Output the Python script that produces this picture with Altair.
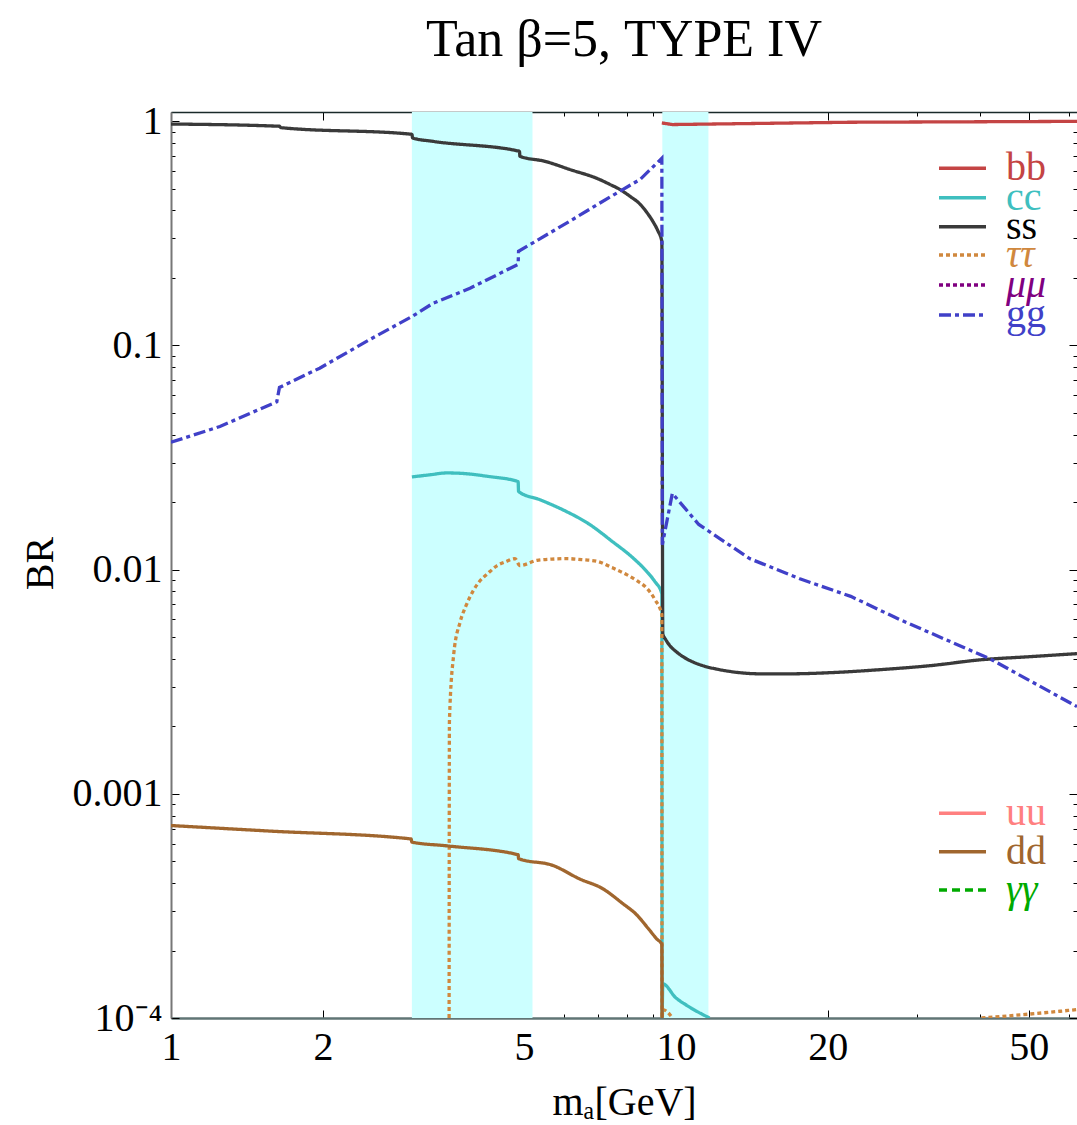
import altair as alt
import pandas as pd

SERIF = "Liberation Serif"
TITLE = "Tan β=5, TYPE IV"
X_TITLE = "mₐ[GeV]"
Y_TITLE = "BR"

# series (legend order), colours and dash styles
series_names = ["bb", "cc", "ss", "ττ", "μμ", "gg", "uu", "dd", "γγ"]
line_colors = ["#c44444", "#3fbfbf", "#3a3a3a", "#d0883e", "#800080", "#4040c8",
               "#ff8080", "#a0662e", "#00aa00"]
label_colors = ["#c44444", "#3fbfbf", "#000000", "#d0883e", "#800080", "#4040c8",
                "#ff8080", "#a0662e", "#00aa00"]
dashes = [[1, 0], [1, 0], [1, 0], [4, 3], [4, 3], [12, 4, 4, 4], [1, 0], [1, 0], [8, 5]]
interp = ["linear", "monotone", "monotone", "monotone", "linear", "linear",
          "linear", "monotone", "linear"]
italic_labels = ["ττ", "μμ", "γγ"]
# legend row centres (pixels from the top of the plot area)
legend_rows = [56.3, 85.7, 114.7, 143.0, 173.0, 203.0, 701.3, 739.7, 778.0]

# axis ticks
x_ticks = [1, 2, 3, 4, 5, 6, 7, 8, 9, 10, 20, 30, 40, 50, 60]
x_labelled = [1, 2, 5, 10, 20, 50]
y_ticks = [0.0001, 0.0002, 0.0003, 0.0004, 0.0005, 0.0006, 0.0007, 0.0008, 0.0009,
           0.001, 0.002, 0.003, 0.004, 0.005, 0.006, 0.007, 0.008, 0.009,
           0.01, 0.02, 0.03, 0.04, 0.05, 0.06, 0.07, 0.08, 0.09,
           0.1, 0.2, 0.3, 0.4, 0.5, 0.6, 0.7, 0.8, 0.9, 1]
y_label_vals = [0.0001, 0.001, 0.01, 0.1, 1]
y_label_text = ["10⁻⁴", "0.001", "0.01", "0.1", "1"]

# shaded bands
band_lo = [3.0, 9.4]
band_hi = [5.2, 11.6]

# curves
bb_x = [9.38, 9.84, 22.0, 62.3]
bb_y = [0.983, 0.967, 0.990, 0.999]

cc_x = [3.0, 3.26, 3.52, 3.91, 4.22, 4.87, 4.88, 5.38, 5.97, 6.75, 7.50, 8.18, 8.76,
        9.09, 9.38, 9.39, 9.42, 10.0, 10.5, 11.66]
cc_y = [0.0259, 0.0265, 0.0270, 0.0267, 0.0261, 0.0247, 0.0223, 0.0205, 0.0185,
        0.0159, 0.0133, 0.0114, 0.0098, 0.00884, 0.00782, 0.0001, 0.000142, 0.000123,
        0.000114, 0.0001]

ss_x = [1.0, 1.64, 1.65, 3.0, 3.01, 3.30, 4.90, 4.91, 5.50, 6.16, 7.06, 7.40, 7.74,
        8.11, 8.50, 8.76, 9.00, 9.21, 9.38,
        9.42, 9.55, 9.73, 9.96, 10.33, 10.79, 11.39, 12.05, 13.1, 14.67, 16.8, 20.2,
        25.4, 31.9, 40.1, 50.2, 62.3]
ss_y = [0.972, 0.950, 0.937, 0.875, 0.842, 0.814, 0.735, 0.698, 0.663, 0.61, 0.55,
        0.523, 0.497, 0.463, 0.426, 0.392, 0.358, 0.325, 0.291,
        0.00518, 0.00487, 0.00458, 0.00435, 0.00409, 0.00388, 0.00371, 0.00360,
        0.00349, 0.00343, 0.00343, 0.00347, 0.00358, 0.00373, 0.00396, 0.00409,
        0.00422]

tt1_x = [3.555, 3.56, 3.63, 3.74, 3.85, 4.09, 4.24, 4.42, 4.61, 4.80, 4.91, 5.31,
         5.68, 6.08, 6.51, 6.97, 7.47, 7.99, 8.37, 8.77, 9.09, 9.38, 9.39, 9.42, 9.85]
tt1_y = [0.0001, 0.0021, 0.00418, 0.00586, 0.0070, 0.0089, 0.0096, 0.0104, 0.01086,
         0.0112, 0.01043, 0.0110, 0.01114, 0.0112, 0.01108, 0.0109, 0.01021, 0.0095,
         0.00893, 0.00823, 0.00735, 0.0063, 0.0001, 0.000109, 0.0001]
tt2_x = [40.3, 49.9, 62.3]
tt2_y = [0.0001, 0.000104, 0.000109]

gg_x = [1.0, 1.25, 1.62, 1.64, 1.97, 2.48, 3.0, 3.30, 3.91, 4.87, 4.88, 6.16, 7.06,
        7.74, 8.50, 9.38, 9.40, 9.84, 11.1, 14.0, 17.6, 22.2, 27.7, 41.9, 62.3]
gg_y = [0.0370, 0.0435, 0.0561, 0.0650, 0.0792, 0.1065, 0.1345, 0.154, 0.180, 0.230,
        0.263, 0.358, 0.431, 0.487, 0.551, 0.684, 0.0129, 0.0219, 0.0159, 0.0112,
        0.0091, 0.0076, 0.0060, 0.0040, 0.00245]

dd_x = [1.0, 1.57, 2.99, 3.0, 3.52, 4.87, 4.88, 5.71, 6.45, 7.17, 7.82, 8.37, 8.80,
        9.17, 9.38, 9.39]
dd_y = [0.000722, 0.000682, 0.000629, 0.000609, 0.000586, 0.000535, 0.000514,
        0.000479, 0.000417, 0.000377, 0.000326, 0.000288, 0.000252, 0.000225,
        0.000213, 0.0001]


def rows(series, seg, xs, ys):
    return [{"series": series, "seg": seg, "x": x, "y": y, "ord": i}
            for i, (x, y) in enumerate(zip(xs, ys))]


series_rows = {
    "bb": rows("bb", "bb", bb_x, bb_y),
    "cc": rows("cc", "cc", cc_x, cc_y),
    "ss": rows("ss", "ss", ss_x, ss_y),
    "ττ": rows("ττ", "tt1", tt1_x, tt1_y) + rows("ττ", "tt2", tt2_x, tt2_y),
    "μμ": [],
    "gg": rows("gg", "gg", gg_x, gg_y),
    "uu": [],
    "dd": rows("dd", "dd", dd_x, dd_y),
    "γγ": [],
}
bands_df = pd.DataFrame({"lo": band_lo, "hi": band_hi})

x_label_expr = "".join(f"datum.value=={v}?'{v}':" for v in x_labelled) + "''"
y_label_expr = "".join(f"datum.value=={v}?'{t}':" for v, t in zip(y_label_vals, y_label_text)) + "''"
X_TICK_EXPR = "indexof([" + ",".join(str(v) for v in x_labelled) + "], datum.value) >= 0 ? -8 : -4"
Y_TICK_EXPR = "abs(log(datum.value)/LN10 - round(log(datum.value)/LN10)) < 1e-6 ? -8 : -4"

xscale = alt.Scale(type="log", domain=[1, 62.3], nice=False)
yscale = alt.Scale(type="log", domain=[0.0001, 1.1], nice=False)

bottom_axis = alt.Axis(
    orient="bottom", values=x_ticks, labelExpr=x_label_expr,
    tickSize=alt.ExprRef(expr=X_TICK_EXPR), labelPadding=17,
    labelFont=SERIF, labelFontSize=40, labelColor="black",
    labelOverlap=False, labelFlush=False,
    domainColor="#607575", domainWidth=2.5, tickColor="black", tickWidth=1,
    title=X_TITLE, titleFont=SERIF, titleFontSize=40, titleFontWeight="normal",
    titleColor="black", titleX=453, titleY=96, titleBaseline="alphabetic",
    titleAlign="center", grid=False,
)
left_axis = alt.Axis(
    orient="left", values=y_ticks, labelExpr=y_label_expr,
    tickSize=alt.ExprRef(expr=Y_TICK_EXPR), labelPadding=17,
    labelFont=SERIF, labelFontSize=40, labelColor="black",
    labelOverlap=False, labelFlush=False,
    domainColor="#777777", domainWidth=2, tickColor="black", tickWidth=1,
    title=Y_TITLE, titleFont=SERIF, titleFontSize=40, titleFontWeight="normal",
    titleColor="black", titleX=-131, titleY=451, titleAngle=270,
    titleBaseline="middle", titleAlign="center", grid=False,
)
top_axis = alt.Axis(
    orient="top", values=x_ticks, labels=False, title=None,
    tickSize=alt.ExprRef(expr=X_TICK_EXPR), domainColor="#1a2a2a", domainWidth=1.5,
    tickColor="black", tickWidth=1, grid=False,
)
right_axis = alt.Axis(
    orient="right", values=y_ticks, labels=False, title=None, domain=False,
    tickSize=alt.ExprRef(expr=Y_TICK_EXPR), tickColor="black", tickWidth=1, grid=False,
)

bands = alt.Chart(bands_df).mark_rect(color="#ccffff").encode(
    x=alt.X("lo:Q", scale=xscale, axis=top_axis),
    x2="hi:Q",
)

layers = [bands]
for i, name in enumerate(series_names):
    legend = alt.Legend(
        title=None, orient="none", legendX=766, legendY=legend_rows[i] - 14.5,
        symbolType="stroke", symbolSize=2209, symbolStrokeWidth=3.5,
        labelFont=SERIF, labelFontSize=40, labelLimit=0,
        labelColor=label_colors[i],
        labelFontStyle="italic" if name in italic_labels else "normal",
        labelOffset=18, clipHeight=29, padding=0,
    )
    df = pd.DataFrame(series_rows[name], columns=["series", "seg", "x", "y", "ord"])
    first = name == "bb"
    xa = bottom_axis if first else None
    ya = left_axis if first else (right_axis if name == "cc" else None)
    layers.append(
        alt.Chart(df).mark_line(strokeWidth=3.3, clip=True, interpolate=interp[i]).encode(
            x=alt.X("x:Q", scale=xscale, axis=xa),
            y=alt.Y("y:Q", scale=yscale, axis=ya),
            color=alt.Color("series:N", scale=alt.Scale(domain=[name], range=[line_colors[i]]), legend=legend),
            strokeDash=alt.StrokeDash("series:N", scale=alt.Scale(domain=[name], range=[dashes[i]]), legend=legend),
            detail="seg:N",
            order="ord:Q",
        )
    )

chart = (
    alt.layer(*layers)
    .resolve_scale(color="independent", strokeDash="independent")
    .resolve_axis(x="independent", y="independent")
    .resolve_legend(color="independent", strokeDash="independent")
    .properties(
        width=906, height=906,
        padding={"left": 171, "top": 112, "right": 0, "bottom": 107},
        autosize=alt.AutoSizeParams(type="none"),
        title=alt.TitleParams(
            text=TITLE, font=SERIF, fontSize=52, fontWeight="normal", color="black",
            anchor="middle", frame="group", offset=34,
        ),
    )
    .configure_view(stroke=None)
)

chart.save("out.html", embed_options={"renderer": "svg", "actions": False})
